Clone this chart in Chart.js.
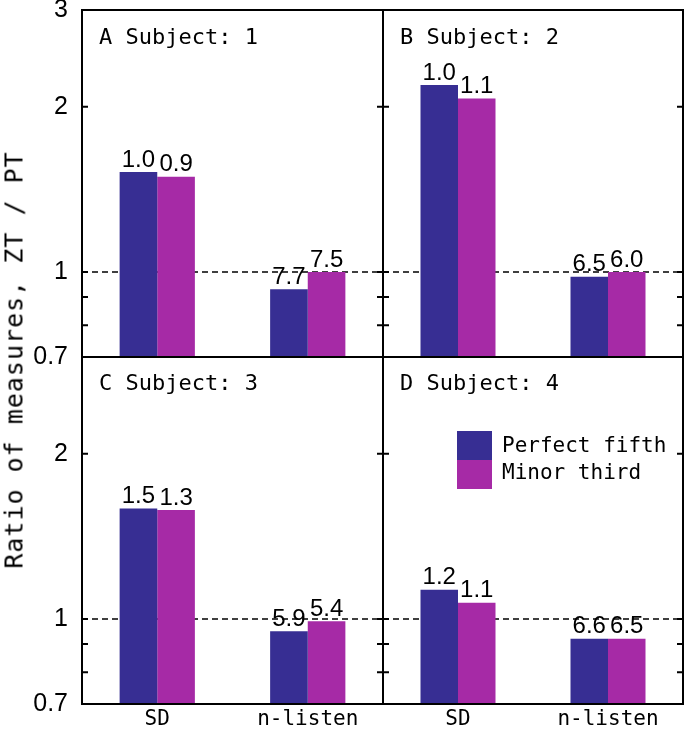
<!DOCTYPE html>
<html>
<head>
<meta charset="utf-8">
<script src="https://cdn.jsdelivr.net/npm/chart.js@4"></script>
<style>
  html, body { margin: 0; padding: 0; background: #fff; }
  #wrap { position: relative; width: 685px; height: 737px; overflow: hidden; }
  #wrap canvas { position: absolute; }
  #ytitle {
    position: absolute; left: 14px; top: 360px;
    transform: translate(-50%, -50%) rotate(-90deg);
    font: 25px "DejaVu Sans Mono"; letter-spacing: 1px;
    white-space: nowrap; color: #000;
  }
</style>
</head>
<body>
<div id="wrap">
  <canvas id="pA" width="392" height="366" style="left:0;top:0"></canvas>
  <canvas id="pB" width="311" height="366" style="left:374px;top:0"></canvas>
  <canvas id="pC" width="392" height="389" style="left:0;top:348px"></canvas>
  <canvas id="pD" width="311" height="389" style="left:374px;top:348px"></canvas>
  <div id="ytitle">Ratio of measures, ZT / PT</div>
</div>
<script>
// ---- data ----
const categories = ['SD', 'n-listen'];
const seriesNames = ['Perfect fifth', 'Minor third'];
const panelTitles = ['A Subject: 1', 'B Subject: 2', 'C Subject: 3', 'D Subject: 4'];

// ratio ZT / PT per panel: [SD, n-listen]
const perfectFifth = [[1.52, 0.93], [2.19, 0.98], [1.59, 0.95], [1.13, 0.92]];
const minorThird   = [[1.49, 1.00], [2.07, 1.00], [1.58, 0.99], [1.07, 0.92]];

// numbers printed above the bars
const perfectFifthText = [['1.0', '7.7'], ['1.0', '6.5'], ['1.5', '5.9'], ['1.2', '6.6']];
const minorThirdText   = [['0.9', '7.5'], ['1.1', '6.0'], ['1.3', '5.4'], ['1.1', '6.5']];

const yTickValues = [0.7, 0.8, 0.9, 1, 2, 3];
const yTickTextTop = ['0.7', '', '', '1', '2', '3'];
const yTickTextBottom = ['0.7', '', '', '1', '2', ''];
const refLine = 1;

const colors = ['#372e93', '#a62aa6'];
const monoFont = '"DejaVu Sans Mono", monospace';
const numFont = '"Liberation Sans", Arial, sans-serif';

// rahmen, innere ticks, gestrichelte linie, werte, titel, legende
const panelDeco = {
  id: 'panelDeco',
  beforeDatasetsDraw(chart) {
    const { ctx, chartArea: a, scales: { y } } = chart;
    const py = y.getPixelForValue(refLine);
    ctx.save();
    ctx.strokeStyle = '#000';
    ctx.lineWidth = 1.5;
    ctx.setLineDash([6, 4]);
    ctx.beginPath();
    ctx.moveTo(a.left, py);
    ctx.lineTo(a.right, py);
    ctx.stroke();
    ctx.restore();
  },
  afterDatasetsDraw(chart, args, opts) {
    const ctx = chart.ctx;
    ctx.save();
    ctx.fillStyle = '#000';
    ctx.font = '24px ' + numFont;
    ctx.textAlign = 'center';
    ctx.textBaseline = 'bottom';
    chart.data.datasets.forEach((ds, i) => {
      chart.getDatasetMeta(i).data.forEach((bar, j) => {
        ctx.fillText(opts.valueText[i][j], bar.x, bar.y);
      });
    });
    ctx.restore();
  },
  afterDraw(chart, args, opts) {
    const { ctx, chartArea: a, scales: { y } } = chart;
    ctx.save();
    ctx.strokeStyle = '#000';
    ctx.lineWidth = 2;
    ctx.strokeRect(a.left, a.top, a.right - a.left, a.bottom - a.top);
    ctx.beginPath();
    yTickValues.forEach(v => {
      if (v <= y.min || v >= y.max) return;
      const py = y.getPixelForValue(v);
      ctx.moveTo(a.left, py); ctx.lineTo(a.left + 6, py);
      ctx.moveTo(a.right - 6, py); ctx.lineTo(a.right, py);
    });
    ctx.stroke();

    ctx.fillStyle = '#000';
    ctx.font = '22px ' + monoFont;
    ctx.textAlign = 'left';
    ctx.textBaseline = 'middle';
    ctx.fillText(opts.title, a.left + 17, a.top + opts.titleDy);

    if (opts.legend) {
      const lx = a.left + 74, ly = a.top + 74, w = 35, h = 29;
      ctx.font = '21px ' + monoFont;
      chart.data.datasets.forEach((ds, i) => {
        ctx.fillStyle = ds.backgroundColor;
        ctx.fillRect(lx, ly + i * h, w, h);
        ctx.fillStyle = '#000';
        ctx.fillText(ds.label, lx + 45, ly + 16 + i * 27);
      });
    }
    ctx.restore();
  }
};

function makePanel(canvasId, idx, cfg) {
  const datasets = [perfectFifth[idx], minorThird[idx]].map((data, i) => ({
    label: seriesNames[i],
    data,
    backgroundColor: colors[i],
    borderWidth: 0,
    categoryPercentage: 0.5,
    barPercentage: 1.0
  }));

  new Chart(document.getElementById(canvasId), {
    type: 'bar',
    data: { labels: categories, datasets },
    plugins: [panelDeco],
    options: {
      responsive: false,
      animation: false,
      devicePixelRatio: 1,
      layout: { padding: cfg.padding },
      plugins: {
        legend: { display: false },
        tooltip: { enabled: false },
        panelDeco: {
          title: panelTitles[idx],
          titleDy: cfg.titleDy,
          valueText: [perfectFifthText[idx], minorThirdText[idx]],
          legend: !!cfg.legend
        }
      },
      scales: {
        x: {
          display: cfg.showX,
          grid: { display: false, drawTicks: false },
          border: { display: false },
          ticks: { color: '#000', padding: 3, font: { family: monoFont, size: 21 } },
          afterFit: s => { s.height = cfg.showX ? 33 : 0; }
        },
        y: {
          type: 'logarithmic',
          min: 0.7,
          max: 3,
          display: cfg.yText !== null,
          grid: { display: false, drawTicks: false },
          border: { display: false },
          afterBuildTicks: s => { s.ticks = yTickValues.map(v => ({ value: v })); },
          afterFit: s => { s.width = cfg.yText ? 82 : 0; s.paddingTop = 0; s.paddingBottom = 0; },
          ticks: {
            autoSkip: false,
            color: '#000',
            padding: 14,
            font: { family: numFont, size: 25 },
            callback: (v, i) => (cfg.yText ? cfg.yText[i] : '')
          }
        }
      }
    }
  });
}

makePanel('pA', 0, { padding: { top: 10, right: 9, bottom: 9, left: 0 }, showX: false, yText: yTickTextTop, titleDy: 28 });
makePanel('pB', 1, { padding: { top: 10, right: 2, bottom: 9, left: 9 }, showX: false, yText: null, titleDy: 28 });
makePanel('pC', 2, { padding: { top: 9, right: 9, bottom: 0, left: 0 }, showX: true, yText: yTickTextBottom, titleDy: 27 });
makePanel('pD', 3, { padding: { top: 9, right: 2, bottom: 0, left: 9 }, showX: true, yText: null, titleDy: 27, legend: true });
</script>
</body>
</html>
